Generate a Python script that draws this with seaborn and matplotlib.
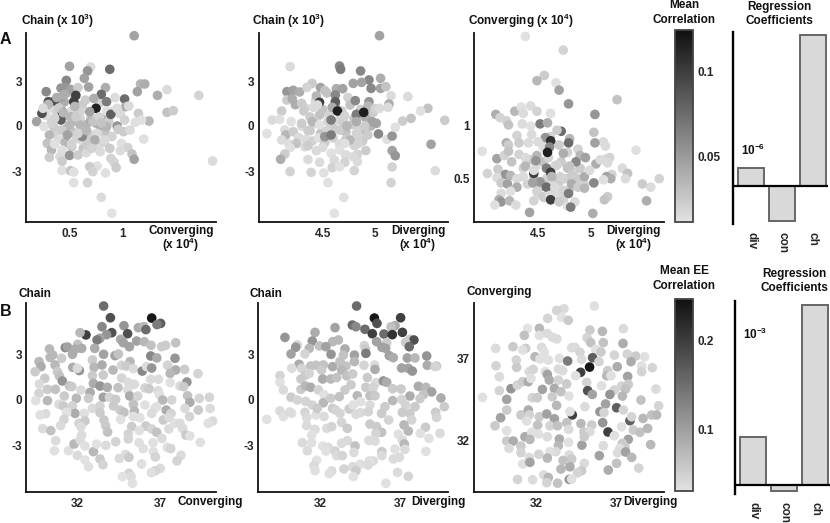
import numpy as np
import matplotlib
matplotlib.use("Agg")
import matplotlib.pyplot as plt
import seaborn as sns
from matplotlib.colors import LinearSegmentedColormap, Normalize, PowerNorm
from matplotlib.cm import ScalarMappable

# ==========================================
# Data
# ==========================================

# Row A, Converging vs Chain
a1_x = [.33,.38,.45,.48,.52,.57,.62,.66,.7,.75,.78,.82,.87,.92,.98,.35,.4,.47,.53,.6,.64,.68,.73,.79,.84,.9,.28,.33,.38,.46,.52,.57,.63,.7,.77,.83,.42,.47,.55,.6,
        1.11,.5,.7,.67,.88,.64,.47,1.17,1.21,1.14,1.42,1.33,1.72,.28,.42,.46,.51,.58,.68,.84,.8,.56,1.02,.36,.3,.3,.54,.65,.73,.85,.93,.75,.85,.89,1.03,1.06,.95,1.15,1.42,1.48,1.25,1.18,1.12,1.02,.43,.42,.24,.19,.25,.36,.26,.35,.51,.6,.69,.7,.6,.5,.43,.31,.48,.62,.58,.76,.85,.95,.96,1.01,1.07,1.2,.74,.83,.88,.99,1.05,1.09,1.11,.98,.29,.33,.36,.43,.31,.41,.43,.5,.58,.66,.79,.66,.71,.89,.92,.94,.76,.69,.72,.84,.43,.51,.54,.54,.67,.8,.9,1.85,.45,.4,.55,.34,.72,.78,.66,.52,.38,.44,.56,.8]
a1_y = [1.2,.9,1.6,.7,1.0,.3,1.4,.1,.6,.2,1.5,.5,.3,1.0,.8,-.5,-.9,-.2,-.4,-.9,-.5,-1.0,-.6,.0,-.5,-.7,.7,.2,-.3,-1.1,-1.4,-.8,-1.5,-.9,-1.3,-1.1,1.9,2.2,2.0,.5,
        6.02,3.98,3.93,3.67,3.78,3.18,3.04,2.8,2.8,2.29,2.42,2.04,2.04,2.29,2.53,2.58,2.44,2.56,2.6,2.56,2.11,2.04,1.8,1.67,1.62,1.44,1.62,1.73,1.84,1.62,1.89,1.18,1.0,.78,1.29,1.33,1.18,.84,.91,1.02,.33,.4,.24,.4,.96,.4,.84,.29,1.18,.51,-.04,-.04,.62,.96,.96,.33,.07,.07,-.27,-.6,-.6,-.71,-.49,-.49,-.04,0,-.22,-.38,-.27,-.87,-.93,-.93,-1.49,-1.16,-1.44,-1.87,-2.22,-1.64,-1.16,-1.6,-1.2,-1.6,-2.09,-2.04,-2.36,-1.96,-1.93,-1.78,-1.71,-1.27,-1.49,-2.16,-2.42,-2.78,-2.67,-2.71,-3.04,-3.13,-2.96,-2.98,-3.07,-3.78,-3.78,-4.76,-5.82,-2.33,2.1,1.2,1.3,.2,.3,.6,-.3,-1.2,1.9,.9,.6,.2]
a1_v = [.022,.029,.054,.041,.022,.048,.035,.048,.029,.054,.029,.048,.035,.016,.022,.029,.022,.054,.041,.016,.048,.035,.029,.054,.041,.029,.022,.035,.029,.048,.035,.029,.041,.035,.022,.029,.06,.054,.041,.029,
        .06,.06,.022,.067,.086,.06,.073,.048,.054,.06,.022,.054,.029,.073,.067,.067,.06,.035,.06,.054,.086,.105,.086,.099,.099,.048,.105,.035,.054,.079,.022,.118,.016,.092,.054,.022,.022,.035,.041,.035,.048,.016,.016,.029,.111,.092,.099,.06,.022,.029,.016,.035,.048,.029,.06,.054,.048,.048,.035,.048,.06,.073,.029,.022,.048,.067,.035,.035,.022,.016,.054,.022,.035,.016,.029,.041,.06,.022,.041,.048,.016,.016,.035,.022,.035,.067,.035,.022,.022,.035,.029,.029,.029,.035,.016,.035,.029,.016,.016,.041,.016,.016,.029,.022,.012,.022,.054,.035,.048,.029,.041,.029,.048,.029,.054,.048,.035,.041]

# Row A, Diverging vs Chain
a2_x = [4.33,4.38,4.43,4.5,4.56,4.62,4.68,4.74,4.8,4.86,4.92,4.98,4.3,4.36,4.42,4.48,4.55,4.6,4.66,4.72,4.78,4.84,4.9,4.96,4.34,4.4,4.46,4.52,4.6,4.66,4.72,4.8,4.88,4.44,4.54,4.62,4.7,4.76,4.84,4.9,
        5.04,4.19,4.66,4.67,4.86,5.05,4.94,4.87,4.79,4.4,4.48,4.63,4.69,4.16,4.22,4.28,4.35,4.52,4.96,5.05,5.1,5.15,5.31,4.16,4.21,4.24,4.3,4.62,4.62,4.47,4.81,4.94,5.13,4.93,5.0,5.04,5.12,5.5,5.43,5.34,5.26,5.66,4.11,4.02,4.09,4.32,4.41,4.45,4.59,4.64,4.58,4.82,4.89,4.71,4.47,4.4,4.2,4.3,4.14,3.97,4.15,4.22,4.27,4.38,4.47,4.54,4.52,4.58,4.66,4.73,4.82,4.97,5.01,4.9,4.76,4.82,4.93,5.03,5.11,5.16,5.19,5.16,5.19,5.53,5.57,5.16,5.15,4.11,4.18,4.25,4.19,4.33,4.36,4.14,4.1,4.19,4.39,4.51,4.36,4.47,4.44,4.5,4.58,4.66,4.71,4.72,4.83,4.91,4.84,4.79,4.83,4.71,4.61,4.59,4.66,4.8,4.55,4.7,4.61]
a2_y = [1.2,.6,1.7,1.1,.7,1.5,1.0,1.9,.5,1.1,.6,.9,.0,-.3,.2,-.5,.3,-.1,.4,-.4,.1,-.2,-.5,.0,-.9,-1.0,-.8,-1.1,-.8,-1.2,-.9,-1.3,-1.0,2.0,2.2,1.3,.2,1.4,-.7,.6,
        6.02,3.96,4.0,3.78,3.67,3.18,3.07,2.91,2.84,2.84,2.56,2.49,2.49,2.29,2.38,2.27,2.58,2.36,2.51,2.51,2.62,2.02,1.96,1.73,1.82,1.42,1.51,2.07,1.62,1.58,1.69,1.62,1.47,1.33,1.16,1.18,1.24,1.18,1.0,.51,.33,.38,1.0,.4,.44,1.0,1.24,1.4,1.24,1.0,.4,.78,.91,.67,.73,.29,.29,.18,-.27,-.51,-.6,-.38,-.76,-.31,.07,-.31,-.71,-.6,-.27,0,.29,.29,.18,0,-.93,-.49,-.6,-.53,-.89,-.67,-.09,-1.64,-1.98,-1.22,-2.98,-2.73,-3.78,-.93,-1.2,-1.16,-1.44,-1.38,-1.31,-1.87,-2.22,-3.04,-3.09,-3.13,-2.24,-2.42,-1.64,-1.42,-1.82,-1.6,-1.16,-1.93,-1.89,-1.64,-1.16,-2.04,-2.38,-2.42,-2.27,-2.78,-2.71,-2.98,-3.78,-4.76,-5.82]
a2_v = [.029,.035,.022,.041,.029,.048,.035,.029,.041,.035,.048,.035,.022,.035,.029,.041,.029,.035,.029,.041,.035,.029,.041,.048,.022,.029,.016,.035,.029,.022,.035,.029,.035,.048,.041,.054,.035,.041,.029,.054,
        .06,.022,.073,.079,.073,.054,.073,.06,.06,.035,.06,.054,.06,.067,.06,.054,.029,.041,.073,.06,.041,.022,.022,.035,.054,.054,.035,.073,.092,.105,.073,.067,.054,.048,.029,.022,.022,.041,.016,.041,.035,.035,.035,.022,.016,.035,.022,.022,.054,.118,.079,.079,.118,.029,.041,.048,.016,.035,.022,.016,.048,.035,.022,.035,.016,.029,.067,.079,.035,.048,.054,.06,.06,.035,.048,.029,.035,.073,.016,.067,.016,.06,.067,.06,.022,.029,.029,.022,.022,.041,.016,.022,.035,.035,.054,.029,.029,.016,.022,.022,.022,.022,.016,.016,.016,.022,.029,.035,.029,.022,.022,.029,.022,.029,.016,.029,.016,.016,.012]

# Row A, Diverging vs Converging
a3_x = [4.36,4.42,4.48,4.55,4.6,4.66,4.72,4.78,4.84,4.9,4.4,4.46,4.52,4.58,4.64,4.7,4.76,4.82,4.88,4.94,4.5,4.56,4.62,4.68,4.74,4.8,4.55,4.62,4.7,4.78,
        4.38,4.74,4.56,4.49,4.67,4.7,4.79,5.25,5.04,4.1,4.14,4.28,4.34,4.36,4.43,4.49,4.62,4.2,4.22,4.35,4.43,4.52,4.59,4.72,4.68,5.03,5.12,5.04,5.14,3.97,5.43,4.3,4.44,4.57,4.62,4.8,4.79,4.2,4.22,4.32,4.41,4.5,4.61,4.59,4.74,4.88,4.9,4.95,4.86,4.11,4.18,4.22,4.32,4.38,4.49,4.48,4.25,4.12,4.02,4.19,4.11,4.24,4.3,4.36,4.38,4.46,4.46,4.58,4.62,4.68,4.8,5.05,5.09,5.15,5.18,5.16,5.3,5.35,5.33,5.2,5.15,5.19,5.12,5.03,4.94,4.99,4.82,4.82,4.71,4.63,4.52,4.45,4.58,4.66,4.74,4.88,4.94,4.15,4.21,4.3,4.15,4.24,4.13,4.15,4.23,4.09,4.29,4.46,4.49,4.55,4.61,4.62,4.7,4.79,4.85,4.78,4.81,4.42,5.02,5.16,5.13,5.53,5.49,5.57,5.65]
a3_y = [.6,.68,.62,.66,.7,.62,.66,.6,.56,.6,.45,.5,.42,.5,.45,.47,.5,.47,.5,.45,.35,.32,.38,.35,.3,.4,.8,.9,.82,.75,
        1.85,1.72,1.48,1.43,1.41,1.34,1.21,1.25,1.11,1.11,1.08,1.14,1.18,1.12,1.19,1.14,1.12,1.05,1.01,1.02,1.0,1.02,1.03,.95,.96,.94,.85,.84,.81,.76,.77,.91,.92,.89,.86,.88,.84,.84,.82,.84,.84,.85,.8,.75,.74,.78,.72,.7,.66,.69,.72,.76,.73,.7,.72,.67,.66,.59,.55,.54,.51,.53,.5,.52,.62,.55,.58,.6,.56,.63,.62,.64,.68,.69,.7,.65,.6,.55,.5,.54,.52,.5,.49,.46,.52,.58,.53,.45,.52,.52,.47,.46,.42,.42,.39,.42,.41,.46,.45,.42,.36,.38,.3,.28,.29,.25,.25,.29,.38,.33,.34,.3,.28,.36,.28,.24,.23,.18,.17,.33,.3,.29,.45,.42,.5]
a3_v = [.029,.035,.022,.041,.029,.022,.035,.041,.029,.035,.029,.041,.035,.029,.022,.035,.029,.041,.035,.029,.022,.029,.035,.022,.029,.035,.022,.029,.035,.029,
        .016,.029,.035,.048,.016,.06,.067,.041,.067,.054,.029,.048,.016,.022,.022,.029,.016,.029,.041,.022,.016,.079,.054,.086,.035,.041,.022,.06,.022,.016,.016,.029,.022,.067,.111,.048,.086,.054,.035,.035,.022,.022,.073,.118,.054,.029,.048,.06,.073,.06,.029,.041,.029,.022,.048,.067,.041,.035,.029,.067,.022,.048,.022,.022,.048,.105,.022,.079,.105,.029,.041,.054,.022,.022,.029,.022,.022,.041,.022,.029,.06,.054,.016,.073,.054,.022,.035,.054,.029,.048,.067,.06,.086,.022,.029,.035,.048,.035,.06,.054,.022,.016,.054,.067,.048,.016,.022,.029,.029,.035,.022,.105,.035,.079,.022,.016,.079,.06,.054,.035,.041,.054,.035,.022,.029]

# Row B, Converging vs Chain
b1_x = [33.57,33.98,36.48,37.02,36.8,34.8,33.47,35.67,36.01,36.13,34.06,35.02,32.5,32.14,33.75,33.35,33.17,34.6,34.76,35.13,35.57,36.03,36.44,37.08,37.32,37.93,31.25,31.38,32,31.84,32.24,30.29,33.03,30.33,30.49,31.03,31.68,33.57,34.26,34.46,36.42,36.79,37.89,29.66,29.78,29.42,30.63,31.7,32.1,31.98,32.89,32.99,33.47,34.14,35.17,34.66,34.96,35.37,35.91,36.17,36.48,37.44,37.93,37.6,38.47,39.28,30.01,30.77,30.89,31.07,29.68,30.17,30.65,31.5,31.64,32.89,33.55,32.95,33.35,33.79,34.66,34.44,35.06,35.43,36.42,36.89,36.07,36.32,37.6,38.61,38.19,38.41,36.86,35.03,29.66,30.17,29.46,31.19,31.92,32.2,32.75,32.65,33.55,33.92,34.3,35.15,35.63,36.94,37.14,37.69,38.65,38.79,39.36,39.97,38.49,39.3,40.02,30.87,31.13,31.68,31.84,31.33,30.06,29.72,32.4,32.89,33.35,33.35,34.16,34.56,34.8,35.37,35.43,36.07,36.67,36.78,36.48,37.36,37.65,37.18,37.52,38.77,40.17,39.9,31.17,30.97,29.88,30.37,32.08,32.44,32.2,33.59,33.69,33.81,34.6,35.37,35.27,35.77,36.13,36.48,36.78,35.73,35.06,37.52,37.89,38.19,38.35,38.55,38.79,30.67,30.59,31.44,31.78,32.24,32.14,32.44,31.98,32.95,33.15,33.71,34.3,35.06,35.71,35.97,36.56,37.1,37.42,37.63,39.42,38.25,38.01,36.58,36.7,33.35,33.53,32.44,32.65,34.52,34.9,35.1,35.87,37,36.7,36.46,35.1,35.23,34.7,35.31]
b1_y = [6.17,5.4,5.38,5.03,4.95,4.88,4.81,4.75,4.81,4.62,4.42,4.35,4.27,4.42,4.29,4.05,3.94,3.98,3.76,3.5,3.87,3.83,3.59,3.5,3.59,3.76,3.44,3.48,3.65,3.33,3.39,3.35,3.39,2.8,2.95,2.74,3.0,3.0,2.91,3.02,2.89,2.76,2.74,2.52,2.19,1.86,2.3,2.14,1.93,2.08,2.63,2.14,2.3,1.97,2.52,2.28,2.23,2.06,1.9,2.19,2.1,2.28,1.97,1.75,2.01,1.73,1.42,1.86,1.58,1.25,1.05,.7,.7,.92,.88,1.6,1.64,1.09,.92,.83,1.44,.81,1.16,1.03,1.36,1.36,.79,.74,1.14,1.18,.92,.88,.61,.66,.44,-.04,-.04,.26,.11,.66,.5,.11,.18,.18,.04,.26,.26,.37,0,0,.28,-.15,.11,.18,-.55,-.66,-.55,-.28,-.39,-.39,-.88,-.81,-.9,-.98,-.88,-.55,-.39,-.83,-.39,-.66,-.81,-.28,-.72,-.33,-.55,-.44,-.88,-.66,-.88,-1.31,-1.14,-1.09,-1.38,-1.53,-1.27,-1.68,-1.88,-2.01,-1.53,-1.38,-1.75,-1.31,-1.68,-2.1,-1.27,-1.09,-1.75,-1.16,-1.71,-1.9,-2.12,-2.01,-2.23,-1.9,-1.53,-1.53,-1.86,-2.3,-2.36,-2.67,-3.33,-3.33,-2.89,-2.3,-2.63,-3.02,-3.63,-3.39,-2.89,-2.98,-2.74,-2.56,-2.8,-3.19,-2.8,-2.52,-3.11,-3.19,-2.78,-3.63,-4.0,-3.39,-3.74,-3.87,-4.25,-3.94,-4.38,-3.83,-3.57,-3.76,-4.2,-4.49,-4.64,-4.77,-4.81,-5.03,-5.03,-5.47]
b1_v = [.174,.198,.243,.186,.161,.136,.149,.112,.099,.174,
        .198,.198,.211,.099,.136,.124,.161,.112,.124,.124,
        .124,.099,.087,.075,.075,.087,.149,.124,.087,.112,
        .112,.099,.112,.099,.099,.075,.112,.124,.124,.087,
        .149,.112,.136,.099,.112,.075,.099,.112,.136,.05,
        .075,.099,.112,.099,.099,.062,.075,.05,.149,.05,
        .136,.062,.112,.099,.075,.062,.075,.075,.087,.136,
        .05,.075,.087,.087,.075,.075,.075,.112,.136,.112,
        .062,.087,.05,.05,.05,.05,.062,.075,.037,.136,
        .05,.075,.05,.05,.062,.099,.037,.075,.099,.05,
        .112,.075,.124,.062,.075,.112,.062,.037,.099,.062,
        .087,.112,.062,.062,.05,.075,.05,.05,.075,.062,
        .112,.037,.05,.037,.037,.05,.062,.075,.075,.075,
        .087,.087,.099,.037,.037,.037,.05,.112,.062,.075,
        .05,.062,.05,.037,.062,.05,.05,.087,.062,.075,
        .05,.075,.075,.087,.037,.037,.075,.037,.075,.062,
        .087,.037,.062,.05,.037,.05,.05,.075,.037,.05,
        .037,.037,.099,.05,.05,.037,.05,.099,.03,.05,
        .062,.062,.037,.037,.037,.05,.037,.062,.037,.05,
        .062,.037,.062,.075,.062,.03,.037,.05,.05,.075,
        .037,.05,.062,.037,.062,.05,.03,.037]

# Row B, Diverging vs Chain
b2_x = [34.27,35.38,37.02,35.54,34,34.23,32.92,36.67,36.42,34.79,31.67,35.25,35.98,36.5,37.13,29.79,31.5,32.77,33.13,35.52,36.15,37.6,37.85,37.33,37.56,30.56,30.46,31.94,32.35,31.31,34.75,34.83,35.85,36.08,33.54,30.17,31.04,32.67,34.13,34.85,36.31,36.56,33.44,37.44,37.92,38.65,30.67,30.21,30.83,31.4,31.73,32.19,32.77,33.23,33.6,34.13,34.73,35.4,35.42,37.08,37.5,37.75,38.69,39.27,39.17,29.48,29.48,29.69,30.79,31.08,31.31,32.08,32.15,32.65,33.02,33.33,33.65,34.02,34.94,35.48,35.94,36.15,36.52,37.04,38.13,38.6,38.96,39.54,39.75,38.46,38.23,37.6,30.79,31.08,31.4,31.88,33.92,33.54,34.85,35.31,35.1,35.42,30.17,30.56,31.08,31.5,32.23,32.19,32.65,33.19,34.31,36.52,36.04,37.08,37.33,37.92,28.65,29.48,29.69,30.21,30.1,31.04,31.15,31.73,31.81,32.77,32.96,33.23,33.8,34.06,34.52,35.1,34.23,34.52,35,35.83,37.13,37.6,37.71,39.21,39.27,31.15,31.67,32.23,32.4,32.71,33.33,33.69,35.1,35.52,36.27,35.83,35.48,37.23,37.5,38.58,38.25,39.48,38.79,31.46,30.88,31.46,31.19,32.15,32.48,32.35,32.92,33.02,33.38,33.33,33.69,34.17,34.1,35.04,35.42,35.85,35.85,36.67,36.88,37.13,37.25,37.29,38.6,36.56,36.94,35.31,35.06,34.48,34.02,34.23,33.48,34.98,31.77,31.6,31.67,32.71,32.56,34.06,36.83,37.5,36.1]
b2_y = [6.17,5.38,5.4,5.03,4.92,4.81,4.75,4.88,4.81,4.64,4.44,4.35,4.33,4.29,4.44,4.11,3.87,3.83,3.94,3.83,3.76,3.98,3.94,3.79,3.5,3.61,3.46,3.55,3.5,3.39,3.57,3.33,3.46,3.39,3.35,3.02,3.02,3.0,2.95,3.06,2.91,2.78,2.95,2.76,2.76,2.89,2.34,2.08,2.08,2.23,2.28,2.3,2.19,2.52,2.23,2.52,2.28,2.3,2.01,2.1,2.08,1.9,2.28,2.23,2.19,1.6,1.16,.66,1.38,1.64,1.75,1.97,1.38,1.38,1.47,1.97,1.58,1.71,1.47,1.14,1.25,1.16,.74,.72,.9,.83,.53,.13,-.44,.37,.09,.26,.7,.92,.83,.66,1.0,.66,.83,.83,.28,.28,.18,0,-.09,-.33,.35,-.18,.11,.22,.28,-.04,-.44,.04,-.33,-.44,-1.27,-.72,-1.09,-.88,-.79,-.81,-1.16,-.98,-.55,-.55,-.66,-.88,-.59,-.33,-.11,-.33,-.94,-.83,-.77,-.88,-.81,-.88,-1.31,-.81,-1.14,-1.68,-1.93,-1.09,-1.86,-1.75,-1.47,-1.86,-1.58,-1.75,-1.31,-2.12,-2.19,-1.64,-2.04,-1.79,-2.19,-2.19,-2.52,-2.3,-2.8,-2.8,-3.33,-3.02,-3.11,-3.35,-3.35,-3.65,-3.65,-2.84,-2.67,-3.02,-3.44,-2.65,-2.69,-3.39,-3.65,-3.22,-2.25,-2.63,-2.89,-3.24,-3.37,-3.87,-3.76,-4.0,-4.0,-4.22,-4.38,-4.64,-4.53,-4.27,-3.96,-4.31,-4.64,-4.66,-4.84,-5.03,-4.75,-5.01,-5.47]
b2_v = [.174,.243,.211,.198,.174,.149,.124,.112,.087,.174,
        .112,.211,.174,.223,.211,.136,.136,.099,.099,.124,
        .075,.075,.198,.075,.174,.062,.136,.087,.124,.099,
        .062,.075,.124,.124,.112,.124,.062,.136,.124,.161,
        .124,.112,.087,.124,.099,.136,.112,.05,.062,.087,
        .087,.087,.112,.087,.087,.099,.062,.05,.112,.124,
        .124,.136,.112,.075,.062,.062,.037,.05,.075,.075,
        .062,.075,.112,.099,.087,.099,.087,.075,.075,.05,
        .136,.112,.075,.075,.112,.099,.124,.112,.075,.087,
        .075,.112,.075,.099,.112,.062,.075,.075,.075,.062,
        .087,.075,.075,.062,.062,.062,.037,.099,.075,.087,
        .099,.099,.075,.062,.062,.075,
        .037,.05,.037,.037,.05,.062,.05,.037,.075,.075,
        .062,.062,.075,.037,.037,.05,.05,.05,.062,.075,
        .075,.075,.062,.075,.062,
        .05,.05,.05,.05,.062,.062,.075,.075,.075,.062,
        .087,.062,.099,.099,.075,.037,.05,.037,
        .037,.05,.037,.05,.037,.05,.037,.062,.05,.062,
        .05,.05,.087,.05,.05,.05,.075,.05,.037,.037,
        .05,.099,.05,.037,.05,.05,.05,.037,.037,.05,
        .075,.062,.05,.03,.05,.037,.05,.037,.03,.05,
        .062,.037]

# Row B, Diverging vs Converging
b3_x = [35.63,33.73,33.27,33.58,34,32.71,31.46,32.19,31.25,32.19,32.69,33.02,33.29,29.46,30.54,31.33,31.15,32.33,32.5,31.92,32.23,32.75,33.44,34.21,34.42,34.73,35.35,36.13,35.17,35.4,36.19,35.71,36.04,37.44,37.42,35.52,33.96,34.83,36.88,37.69,38.21,38.77,37.92,37.06,35.92,35.33,34.77,38.58,38.58,39.25,29.48,30.75,30.77,29.69,31.56,31.81,32.56,32.69,33.38,33.65,34.46,36.46,36.4,36.67,37.71,29.69,30.42,30.81,31.15,31.5,31.67,32.81,33.38,33.9,32.38,33.13,33.54,35.15,36.08,35.21,35.5,36.88,37.33,37.75,39.48,37.58,36.6,37.38,28.63,30.15,31.75,32.06,33,34.04,38.54,39.65,30.15,33.27,35.04,36.33,37.02,29.77,29.42,31.04,31.5,31.56,32.19,32.65,33.13,34.25,34.1,35.98,36.23,37.44,37.85,37.96,38.67,39.21,39.52,31.4,32.08,32.85,33.33,33.9,34.79,35.46,36.15,37.33,30.15,31.29,31.71,32.13,32.69,33.44,34.02,34.98,35.35,36.48,36.88,38.06,38.48,38.96,37.75,30.15,30.56,30.29,31.04,31.6,34.02,33.38,33.23,32.85,34.85,35,36.19,37.38,37.54,37.23,37.08,37.58,39.15,31.04,32.15,31.56,32.69,34.06,34.21,33.67,35,35.94,37.96,37.02,31.15,31.6,34.1,33.54,34.83,34.58,36.5,38.4,30.83,31.77,32.46,32.75,32.65,33.33,34.06,34.21]
b3_y = [40.21,40.05,39.95,39.52,39.34,39.46,38.85,38.85,38.42,38.42,38.54,38.3,38.2,37.63,37.73,37.63,37.53,37.69,37.39,37.12,36.98,36.92,37.02,37.67,37.69,37.39,38.75,38.67,38.28,37.98,37.98,37.57,37.41,38.83,37.93,37.06,36.86,36.96,37.22,37.28,37.16,37.12,36.82,36.51,36.82,36.49,36.17,36.55,36.21,36.45,36.57,36.92,36.47,35.9,36.21,36.35,36.21,36.04,36.37,36.27,35.96,36.27,35.96,35.96,35.92,35.05,35.17,35.39,35.6,35.6,35.8,35.7,35.7,35.46,35.13,35.19,34.99,35.56,35.35,35.05,34.82,35.09,35.33,35.44,35.15,35.15,34.82,34.72,34.64,34.52,34.62,34.62,34.68,34.72,34.48,34.13,33.87,34.15,34.07,34.24,34.01,33.4,32.91,33.57,33.87,33.57,33.46,33.63,33.34,33.57,33.77,33.77,33.71,33.87,33.22,33.46,33.36,33.57,33.57,33.2,32.95,32.91,32.91,33.1,33.04,32.95,33.1,32.85,32.61,32.24,32.51,32.41,32.24,32.1,32.69,32.53,32.55,32.53,32.3,32.65,32.51,32.75,32.08,31.98,31.98,31.53,31.67,32.08,31.9,31.7,31.33,31.33,31.73,32.24,31.7,31.84,31.63,31.53,31.27,31.31,31.76,31.27,31.17,30.98,30.94,31.13,30.88,30.8,30.62,31.09,30.98,30.62,30.58,30.68,30.41,30.27,30.17,30.05,30.21,30.33,29.64,29.62,29.91,29.76,29.44,29.41,29.64,29.66]
b3_v = [.037,.05,.062,.03,.075,.062,.03,.099,.087,.037,
        .05,.05,.05,.05,.075,.075,.037,.05,.037,.099,
        .037,.037,.037,.05,.05,.062,.075,.099,.062,.087,
        .087,.037,.075,.05,.112,.186,.161,.05,.062,.062,
        .075,.037,.112,.112,.062,.243,.211,.037,.062,.062,
        .062,.062,.075,.05,.05,.062,.037,.124,.05,.05,
        .037,.075,.099,.037,.124,
        .062,.136,.062,.075,.112,.037,.112,.062,.075,.124,.112,.087,.062,.037,.198,.124,.062,.062,.075,.05,.087,.136,.099,
        .037,.124,.062,.075,.075,.037,.087,.062,.075,.099,.05,.124,.186,
        .124,.075,.075,.112,.062,.075,.124,.124,.211,.037,.136,.062,.062,.186,.062,.099,.087,.099,
        .037,.087,.062,.087,.087,.099,.075,.136,.037,
        .037,.112,.037,.037,.05,.112,.05,.075,.05,.211,.037,.075,.087,.099,.124,
        .075,.112,.05,.075,.099,.037,.099,.05,.037,.124,.075,.05,.075,.075,.037,.05,.124,.099,
        .062,.062,.05,.099,.05,.075,.087,.05,.124,.099,.087,
        .037,.124,.112,.099,.075,.062,.112,.062,
        .062,.05,.05,.099,.062,.087,.136,.037]

# Bars and colour scales
bar_cats = ["div", "con", "ch"]
a_coefs = [0.5, -0.96, 4.2]
b_coefs = [0.32, -0.038, 1.2]
a_range = (0.012, 0.124)
b_range = (0.03, 0.248)

# ==========================================
# Style
# ==========================================

sns.set_style("white")
plt.rcParams["font.family"] = ["Liberation Sans", "DejaVu Sans"]
plt.rcParams["font.weight"] = "bold"
plt.rcParams["mathtext.default"] = "regular"
plt.rcParams["text.color"] = "#111111"

W, H = 830, 523
FS = 8.5
grays = LinearSegmentedColormap.from_list("grays", ["#e2e2e2", "#101010"])

fig = plt.figure(figsize=(W / 100, H / 100), dpi=100)


def px_axes(left, right, top, bottom):
    return fig.add_axes([left / W, 1 - bottom / H, (right - left) / W, (bottom - top) / H])


def label(px, py, s, **kw):
    kw.setdefault("fontsize", FS)
    kw.setdefault("va", "center")
    fig.text(px / W, 1 - py / H, s, **kw)


def finish_axis(ax, sides=("left", "bottom")):
    for side in ["top", "right", "left", "bottom"]:
        ax.spines[side].set_visible(side in sides)
        ax.spines[side].set_linewidth(1.3)
        ax.spines[side].set_color("#111111")
    ax.set_xlabel("")
    ax.set_ylabel("")
    ax.patch.set_alpha(0)


def scatter_panel(box, xdata, ydata, vdata, vrange, xticks, xpx, yticks, ypx, xlabels, ylabels):
    left, right, top, bottom = box
    ax = px_axes(left, right, top, bottom)
    n = min(len(xdata), len(ydata), len(vdata))
    # my gray readings came out a bit dark, so lift the middle of the scale
    sns.scatterplot(x=xdata[:n], y=ydata[:n], hue=vdata[:n], palette=grays,
                    hue_norm=PowerNorm(1.4, vmin=vrange[0], vmax=vrange[1]),
                    s=48, linewidth=0, legend=False, clip_on=False, ax=ax)
    xs = (xticks[1] - xticks[0]) / (xpx[1] - xpx[0])
    ys = (yticks[1] - yticks[0]) / (ypx[1] - ypx[0])
    ax.set_xlim(xticks[0] + (left - xpx[0]) * xs, xticks[0] + (right - xpx[0]) * xs)
    ax.set_ylim(yticks[0] + (bottom - ypx[0]) * ys, yticks[0] + (top - ypx[0]) * ys)
    ax.set_xticks(xticks, xlabels)
    ax.set_yticks(yticks if len(ylabels) == 2 else [3, 0, -3], ylabels)
    ax.set_xticks([ax.get_xlim()[0]], minor=True)
    ax.tick_params(axis="both", which="major", direction="in", length=3, width=1.2,
                   labelsize=FS, pad=3, color="#111111")
    ax.tick_params(axis="x", which="major", pad=4)
    ax.tick_params(axis="x", which="minor", direction="out", length=3, width=1.2, color="#111111")
    finish_axis(ax)
    return ax


def color_panel(left, right, top, bottom, vrange, ticks, ticklabels):
    cax = px_axes(left, right, top, bottom)
    sm = ScalarMappable(norm=Normalize(*vrange), cmap=grays)
    cb = fig.colorbar(sm, cax=cax)
    cb.set_ticks(ticks, labels=ticklabels)
    cb.ax.tick_params(direction="in", length=4, width=1.5, labelsize=FS, pad=3, color="black")
    cb.outline.set_edgecolor("#444444")
    cb.outline.set_linewidth(1.3)


def bar_panel(box, coefs, base_px, unit_px, tick_text, xright):
    left, right, top, bottom = box
    ax = px_axes(left, right, top, bottom)
    sns.barplot(x=bar_cats, y=coefs, color="#d9d9d9", saturation=1, edgecolor="#666666",
                linewidth=1.4, width=0.84, ax=ax)
    ax.set_ylim((base_px - bottom) / unit_px, (base_px - top) / unit_px)
    ax.set_xlim((left - xright) / 31, (right - xright) / 31)
    ax.axhline(0, color="black", lw=1.6, zorder=5)
    ax.set_yticks([1], [tick_text])
    ax.tick_params(axis="y", direction="in", length=2.5, width=1.3, labelright=False, labelleft=False)
    ax.text(0.085, 1, tick_text, transform=ax.get_yaxis_transform(), va="center", fontsize=FS)
    ax.set_xticks([0, 1, 2], bar_cats, rotation=270)
    ax.tick_params(axis="x", length=0, labelsize=FS, pad=6)
    finish_axis(ax, sides=("left",))
    ax.spines["left"].set_linewidth(1.7)
    ax.spines["left"].set_color("black")


# ==========================================
# Row A
# ==========================================

ya = [3, 0]
ya_px = [81, 126]
ya_lab = ["3", "0", "-3"]
scatter_panel((26, 216, 33, 222), a1_x, a1_y, a1_v, a_range, [0.5, 1], [69.5, 122.5], ya, ya_px, ["0.5", "1"], ya_lab)
scatter_panel((258.7, 448, 33, 222), a2_x, a2_y, a2_v, a_range, [4.5, 5], [322.7, 375.3], ya, ya_px, ["4.5", "5"], ya_lab)
scatter_panel((473.7, 664, 33, 222), a3_x, a3_y, a3_v, a_range, [4.5, 5], [538, 590.7], [1, 0.5], [126, 178.7], ["4.5", "5"], ["1", "0.5"])
color_panel(675, 693.3, 30, 222, a_range, [0.05, 0.1], ["0.05", "0.1"])
bar_panel((732.7, 828, 32, 224), a_coefs, 186, 36, "10$^{-6}$", 751)

label(0, 39.5, "A", fontsize=11.5)
label(21, 21, "Chain (x 10$^{3}$)")
label(252, 21, "Chain (x 10$^{3}$)")
label(468, 21, "Converging (x 10$^{4}$)")
label(214, 231, "Converging", ha="right")
label(199, 245, "(x 10$^{4}$)", ha="right")
label(446, 231, "Diverging", ha="right")
label(436, 245, "(x 10$^{4}$)", ha="right")
label(661, 231, "Diverging", ha="right")
label(652, 245, "(x 10$^{4}$)", ha="right")
label(684, 12.5, "Mean\nCorrelation", ha="center", linespacing=1.4)
label(779, 14, "Regression\nCoefficients", ha="center", linespacing=1.3)

# ==========================================
# Row B
# ==========================================

yb = [3, 0]
yb_px = [354.3, 400]
scatter_panel((26, 216, 302.7, 492.3), b1_x, b1_y, b1_v, b_range, [32, 37], [77.7, 160.3], yb, yb_px, ["32", "37"], ya_lab)
scatter_panel((258, 448, 302.7, 492.3), b2_x, b2_y, b2_v, b_range, [32, 37], [320.3, 400.3], yb, yb_px, ["32", "37"], ya_lab)
scatter_panel((474, 664, 302.7, 492.3), b3_x, b3_y, b3_v, b_range, [32, 37], [536.3, 616.3], [37, 32], [358.7, 440.7], ["32", "37"], ["37", "32"])
color_panel(675, 693.3, 298.7, 490.7, b_range, [0.1, 0.2], ["0.1", "0.2"])
bar_panel((735, 830, 301, 494), b_coefs, 485, 150.3, "10$^{-3}$", 753)

label(0, 311, "B", fontsize=11.5)
label(18, 294, "Chain")
label(249, 294, "Chain")
label(466, 292, "Converging")
label(243, 502, "Converging", ha="right")
label(466, 502, "Diverging", ha="right")
label(678, 502, "Diverging", ha="right")
label(684, 278.5, "Mean EE\nCorrelation", ha="center", linespacing=1.4)
label(794, 281, "Regression\nCoefficients", ha="center", linespacing=1.3)

fig.savefig("out.png", dpi=100)
